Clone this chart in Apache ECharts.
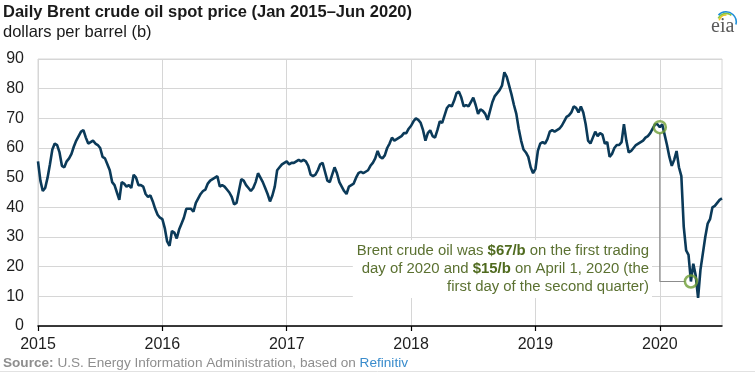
<!DOCTYPE html>
<html>
<head>
<meta charset="utf-8">
<script src="https://cdn.jsdelivr.net/npm/echarts@6/dist/echarts.min.js"></script>
<style>
  html, body { margin: 0; padding: 0; background: #fff; }
  #chart { width: 755px; height: 373px; }
</style>
</head>
<body>
<div id="chart"></div>
<script>
// Weekly readings of the daily Brent spot price (dollars per barrel), one array per year
const v2015 = [55.5,49,45.5,46.5,50,54.5,59.5,61.5,61,58.5,54,53.5,55.5,56.5,58,60.5,62.5,64,65.5,66,63.5,61.5,62,62.5,61.5,61,60,57,56.5,54.5,52.5,48.5,47.5,45,42.5,48.5,48,47,47.5,46.5,51,50,47.5,47.5,47,44.5,43.5,44,42,39.5,37.5,36.5];
const v2016 = [36,33,28.5,27,32,31.5,29.5,32.5,34.5,36.5,39.5,39.5,39.5,38.5,41.5,43,44.5,45.5,46,48,49,49.5,50,50.5,47,47.5,47,46,45,43.5,41,41.5,45.5,49.5,49,47.5,46.5,45.5,46.5,48.5,51.5,50,48.5,46.5,44.5,42,44,47,52.5,53.5,54.5,55];
const v2017 = [55.5,54.5,55,55,55.5,56,55.5,56,55.5,54,51,50.5,51,52.5,54.5,55,52,49,48.5,51,53.5,51.5,48.5,47,45.5,44.5,47,47.5,48,50,51.5,52,51.5,52,52.5,54,55,56.5,59,57,56.5,57.5,60,61.5,63.5,62.5,63,63.5,64,65,65,66.5];
const v2018 = [67.5,69,70,69.5,68.5,66,62.5,65,66,64,63.5,66,69,68.5,71,73.5,74.5,74,76,78.5,79,77,74,74.5,74,75.5,77,74.5,71.5,73,72.5,71.5,69.5,72.5,75.5,77.5,78.5,79.5,81,85.5,84,81,78,74.5,71.5,66.5,62.5,59.5,58.5,57,53.5,51.5];
const v2019 = [53,59,61.5,62,61.5,63,65.5,66,65.5,66,66.5,67.5,69,70.5,71,72,74,73.5,72,74,72,68,62.5,61.5,63.5,65.5,64,65,64.5,61.5,62,57,58,60,61,61,62,68,62.5,58.5,59,60,61,61.5,62,62.5,63.5,64,65,66.5,68,68];
const v2020 = [67,68,64.5,61,57,54,56,59,53.5,50.5,33.5,25.5,24,15,21,17,9.5,19,24.5,30,34.5,36,40,40.5,41.5,42.5,43];
const yearStarts = [2015, 2016, 2017, 2018, 2019, 2020];
const tickYears = [2015, 2016, 2017, 2018, 2019, 2020];
const yTicks = [0, 10, 20, 30, 40, 50, 60, 70, 80, 90];
// Annotated points: first trading day of 2020 and April 1, 2020
const annotX = [2020.0, 2020.25];
const annotY = [67, 15];

const yearly = [v2015, v2016, v2017, v2018, v2019, v2020];
const data = [];
yearly.forEach((arr, k) => {
  arr.forEach((v, i) => data.push([yearStarts[k] + i / 52, v]));
});
const circles = annotX.map((x, i) => [x, annotY[i]]);
const connector = [[annotX[0], annotY[0]], [annotX[0], annotY[1]], [annotX[1], annotY[1]]];

const FONT = '"Liberation Sans", Arial, Helvetica, sans-serif';
const chart = echarts.init(document.getElementById('chart'), null, { renderer: 'canvas' });

chart.setOption({
  animation: false,
  backgroundColor: '#fff',
  grid: { left: 38, right: 33, top: 59, bottom: 47, show: true, borderColor: '#d6d6d6', borderWidth: 1 },
  xAxis: {
    type: 'value', min: 2015, max: 2020.5, interval: 1,
    axisLine: { show: true, lineStyle: { color: '#000', width: 1.5 } },
    axisTick: { show: true, length: 5, lineStyle: { color: '#000', width: 1.2 }, customValues: tickYears },
    axisLabel: { customValues: tickYears, formatter: v => (Number.isInteger(v) ? String(v) : ''), fontSize: 16, color: '#1e1e1e', margin: 11, fontFamily: FONT },
    splitLine: { show: true, lineStyle: { color: '#d6d6d6', width: 1 } }
  },
  yAxis: {
    type: 'value', min: yTicks[0], max: yTicks[yTicks.length - 1], interval: 10,
    axisLine: { show: false }, axisTick: { show: false },
    axisLabel: { fontSize: 16, color: '#1e1e1e', margin: 14, fontFamily: FONT },
    splitLine: { show: true, lineStyle: { color: '#d6d6d6', width: 1 } }
  },
  series: [
    { type: 'line', data: connector, z: 1, showSymbol: false, silent: true,
      lineStyle: { color: '#8c8c8c', width: 1.2 } },
    { type: 'scatter', data: circles, z: 2, symbol: 'circle', symbolSize: 12, silent: true,
      itemStyle: { color: '#fff', opacity: 1 } },
    { type: 'line', data: data, z: 3, showSymbol: false, smooth: false,
      lineStyle: { color: '#0b3a59', width: 2.6 } },
    { type: 'scatter', data: circles, z: 4, symbol: 'circle', symbolSize: 12, silent: true,
      itemStyle: { color: 'rgba(0,0,0,0)', borderColor: '#6e9e35', borderWidth: 2.5 } }
  ],
  graphic: [
    { type: 'text', left: 3, top: 4, z: 10,
      style: { text: 'Daily Brent crude oil spot price (Jan 2015–Jun 2020)', fontSize: 16.5, fontWeight: 'bold', fontFamily: FONT, fill: '#1a1a1a' } },
    { type: 'text', left: 3, top: 24, z: 10,
      style: { text: 'dollars per barrel (b)', fontSize: 16.5, fontFamily: FONT, fill: '#1a1a1a' } },
    { type: 'text', x: 652, y: 240, z: 10,
      style: {
        text: 'Brent crude oil was {b|$67/b} on the first trading\nday of 2020 and {b|$15/b} on April 1, 2020 (the\nfirst day of the second quarter)',
        align: 'right', verticalAlign: 'top', fontSize: 14.9, fontFamily: FONT, lineHeight: 18,
        fill: '#5b7131', backgroundColor: '#fff', padding: [2, 3, 2, 4],
        rich: { b: { fontSize: 14.9, fontFamily: FONT, fontWeight: 'bold', fill: '#4f6a1e', lineHeight: 18 } }
      } },
    { type: 'text', left: 3, top: 356, z: 10,
      style: {
        text: '{s|Source:} U.S. Energy Information Administration, based on {r|Refinitiv}',
        fontSize: 13.6, fontFamily: FONT, fill: '#8e8e8e',
        rich: {
          s: { fontSize: 13.6, fontFamily: FONT, fontWeight: 'bold', fill: '#8e8e8e' },
          r: { fontSize: 13.6, fontFamily: FONT, fill: '#3a8ccc' }
        }
      } },
    { type: 'line', z: 10, shape: { x1: 0, y1: 371.5, x2: 755, y2: 371.5 }, style: { stroke: '#e2e2e2', lineWidth: 1 } },
    { type: 'text', left: 711, top: 17, z: 10,
      style: { text: 'eia', fontSize: 20, fontFamily: '"Liberation Serif", "DejaVu Serif", serif', fill: '#5a5a5a' } },
    { type: 'arc', z: 10, shape: { cx: 726, cy: 22, r: 7, startAngle: -2.9, endAngle: -1.5 }, style: { stroke: '#f2c21b', fill: null, lineWidth: 1.6 } },
    { type: 'arc', z: 10, shape: { cx: 726, cy: 22, r: 8.6, startAngle: -2.7, endAngle: -0.9 }, style: { stroke: '#8cc63e', fill: null, lineWidth: 1.6 } },
    { type: 'arc', z: 10, shape: { cx: 726, cy: 22, r: 10.2, startAngle: -2.4, endAngle: 0.25 }, style: { stroke: '#1f8fd8', fill: null, lineWidth: 1.6 } }
  ]
});
</script>
</body>
</html>
